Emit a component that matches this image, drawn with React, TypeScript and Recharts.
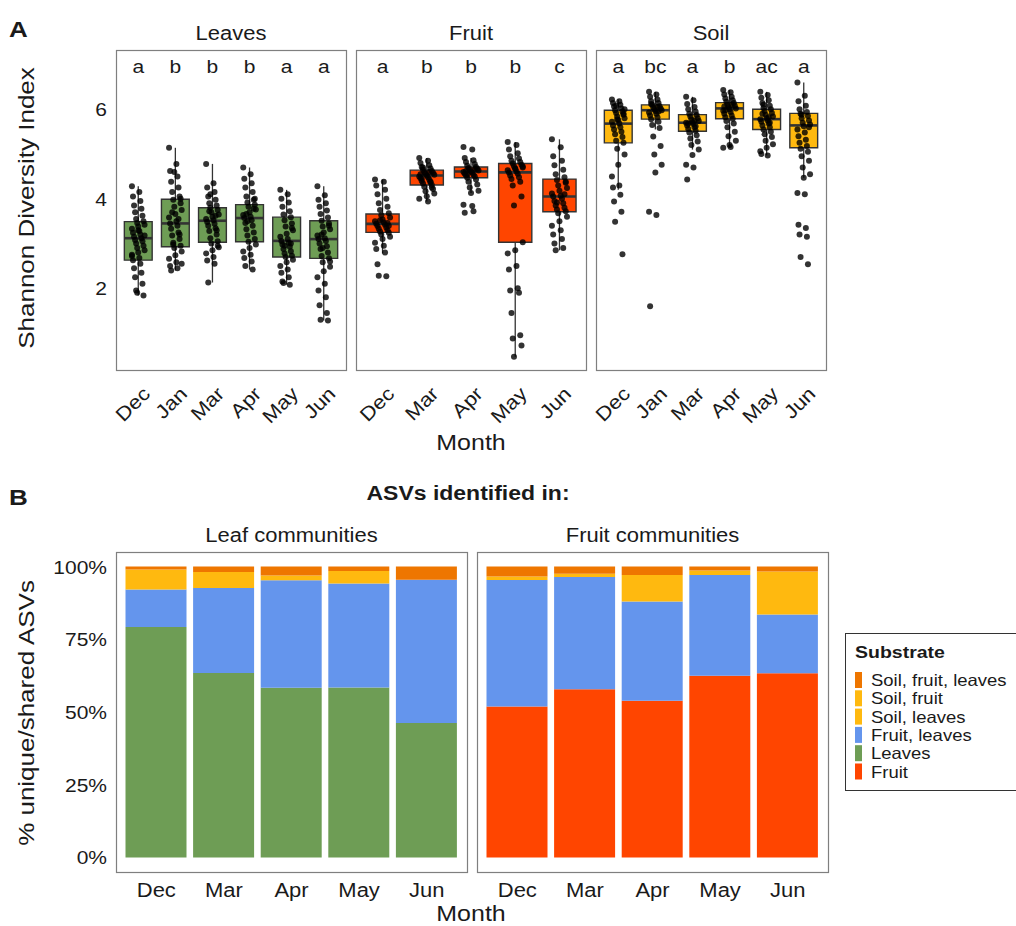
import React from 'react';
import {
  ComposedChart,
  BarChart,
  Bar,
  Scatter,
  XAxis,
  YAxis,
  ReferenceArea,
  ReferenceLine,
} from 'recharts';

const FONT = '"Liberation Sans", Arial, Helvetica, sans-serif';
const INK = '#1a1a1a';
// the reference type is a little wider than it is tall
const SQ = 0.88;

// ---- panel A: Shannon diversity ----
const leafMonths = ['Dec', 'Jan', 'Mar', 'Apr', 'May', 'Jun'];
const fruitMonths = ['Dec', 'Mar', 'Apr', 'May', 'Jun'];
const soilMonths = ['Dec', 'Jan', 'Mar', 'Apr', 'May', 'Jun'];

const leafLetters = ['a', 'b', 'b', 'b', 'a', 'a'];
const fruitLetters = ['a', 'b', 'b', 'b', 'c'];
const soilLetters = ['a', 'bc', 'a', 'b', 'ac', 'a'];

// [lower whisker, Q1, median, Q3, upper whisker]
const leafBoxes = [
  [1.84, 2.63, 3.12, 3.49, 4.28],
  [2.4, 2.93, 3.45, 3.99, 5.14],
  [2.13, 3.03, 3.51, 3.8, 4.78],
  [2.42, 3.04, 3.57, 3.87, 4.7],
  [2.08, 2.7, 3.06, 3.59, 4.2],
  [1.28, 2.67, 3.1, 3.51, 4.28],
];
const fruitBoxes = [
  [2.78, 3.25, 3.44, 3.66, 4.43],
  [3.94, 4.31, 4.52, 4.64, 4.91],
  [4.13, 4.47, 4.61, 4.71, 4.91],
  [0.47, 3.03, 4.59, 4.79, 5.27],
  [2.85, 3.71, 4.05, 4.44, 5.33],
];
const soilBoxes = [
  [4.2, 5.25, 5.68, 5.98, 6.22],
  [5.55, 5.78, 5.98, 6.1, 6.39],
  [5.1, 5.51, 5.7, 5.88, 6.28],
  [5.14, 5.79, 6.02, 6.15, 6.43],
  [4.97, 5.55, 5.78, 6.0, 6.39],
  [4.47, 5.14, 5.64, 5.91, 6.6],
];

const leafPoints = [
  [4.28, 4.15, 4.05, 3.95, 3.85, 3.78, 3.7, 3.62, 3.55, 3.5, 3.46, 3.42, 3.38, 3.33, 3.28, 3.24, 3.2, 3.15, 3.12, 3.08, 3.05, 3.0, 2.95, 2.9, 2.85, 2.8, 2.75, 2.68, 2.63, 2.55, 2.45, 2.35, 2.25, 2.1, 1.95, 1.84, 1.9, 3.18, 3.3, 2.72],
  [5.14, 4.78, 4.62, 4.5, 4.38, 4.25, 4.15, 4.05, 3.98, 3.9, 3.82, 3.75, 3.66, 3.58, 3.5, 3.45, 3.4, 3.33, 3.25, 3.18, 3.1, 3.02, 2.95, 2.9, 2.82, 2.74, 2.66, 2.58, 2.5, 2.45, 2.4, 3.55, 3.7, 3.2, 2.98, 4.0, 4.6, 2.55],
  [4.78, 4.35, 4.25, 4.15, 4.05, 3.98, 3.9, 3.85, 3.8, 3.75, 3.7, 3.65, 3.6, 3.55, 3.52, 3.48, 3.44, 3.4, 3.34, 3.28, 3.2, 3.12, 3.05, 3.0, 2.92, 2.85, 2.78, 2.7, 2.62, 2.55, 2.13, 3.62, 3.72, 3.3, 4.1, 2.95],
  [4.7, 4.55, 4.45, 4.35, 4.25, 4.15, 4.05, 3.98, 3.92, 3.87, 3.82, 3.76, 3.7, 3.64, 3.6, 3.57, 3.52, 3.46, 3.4, 3.32, 3.25, 3.18, 3.1, 3.04, 2.98, 2.9, 2.82, 2.75, 2.68, 2.6, 2.5, 2.42, 3.66, 3.78, 3.5, 4.0],
  [4.2, 4.1, 4.0, 3.92, 3.82, 3.72, 3.65, 3.59, 3.52, 3.45, 3.38, 3.3, 3.22, 3.15, 3.1, 3.06, 3.02, 2.98, 2.93, 2.88, 2.83, 2.78, 2.73, 2.7, 2.64, 2.58, 2.5, 2.42, 2.35, 2.25, 2.15, 2.08, 2.12, 3.0, 2.95, 3.35],
  [4.28, 4.08, 3.98, 3.9, 3.82, 3.74, 3.66, 3.58, 3.51, 3.45, 3.38, 3.32, 3.25, 3.18, 3.12, 3.1, 3.06, 3.0, 2.94, 2.88, 2.8, 2.72, 2.67, 2.58, 2.48, 2.38, 2.25, 2.1, 1.95, 1.8, 1.62, 1.45, 1.3, 1.28, 3.2, 3.4, 2.9, 2.6],
];
const fruitPoints = [
  [4.43, 4.38, 4.3, 4.2, 4.1, 4.0, 3.9, 3.82, 3.75, 3.68, 3.63, 3.58, 3.54, 3.5, 3.47, 3.44, 3.42, 3.39, 3.36, 3.33, 3.3, 3.27, 3.24, 3.2, 3.15, 3.1, 3.02, 2.95, 2.88, 2.8, 2.54, 2.27, 2.28, 3.46, 3.52, 3.4],
  [4.91, 4.85, 4.8, 4.75, 4.71, 4.68, 4.65, 4.62, 4.6, 4.58, 4.56, 4.54, 4.52, 4.5, 4.48, 4.46, 4.43, 4.4, 4.37, 4.34, 4.31, 4.27, 4.22, 4.17, 4.12, 4.06, 4.0, 3.94, 4.55, 4.6, 4.45, 4.38, 4.7, 4.25],
  [5.16, 5.1, 4.91, 4.86, 4.82, 4.78, 4.74, 4.71, 4.69, 4.67, 4.65, 4.63, 4.61, 4.6, 4.58, 4.56, 4.54, 4.52, 4.5, 4.47, 4.43, 4.38, 4.32, 4.25, 4.18, 4.13, 3.87, 3.84, 3.69, 3.72, 4.62, 4.66, 4.55],
  [5.27, 5.2, 5.1, 5.02, 4.95, 4.9, 4.85, 4.82, 4.79, 4.76, 4.73, 4.7, 4.67, 4.64, 4.61, 4.59, 4.56, 4.52, 4.48, 4.44, 4.38, 4.3, 4.05, 3.85, 3.03, 2.85, 2.78, 2.5, 2.42, 2.0, 1.95, 1.9, 1.45, 0.95, 0.88, 0.72, 0.47, 4.72, 4.68],
  [5.33, 5.15, 4.95, 4.85, 4.75, 4.65, 4.55, 4.48, 4.42, 4.36, 4.3, 4.24, 4.18, 4.12, 4.07, 4.05, 4.0, 3.95, 3.9, 3.85, 3.8, 3.76, 3.72, 3.68, 3.6, 3.5, 3.4, 3.3, 3.2, 3.1, 3.0, 2.9, 2.85, 4.1, 3.92, 4.38],
];
const soilPoints = [
  [6.22, 6.18, 6.14, 6.1, 6.06, 6.02, 5.98, 5.95, 5.92, 5.88, 5.84, 5.8, 5.76, 5.72, 5.68, 5.64, 5.6, 5.55, 5.5, 5.44, 5.38, 5.3, 5.25, 5.12, 4.99, 4.76, 4.5, 4.3, 4.25, 4.09, 3.94, 3.71, 3.49, 2.76, 6.08, 5.9, 5.78, 6.0],
  [6.39, 6.33, 6.28, 6.22, 6.18, 6.14, 6.1, 6.07, 6.04, 6.02, 6.0, 5.98, 5.96, 5.93, 5.9, 5.86, 5.82, 5.78, 5.72, 5.65, 5.58, 5.39, 5.18, 4.99, 4.76, 4.59, 3.71, 3.64, 1.6, 6.05, 6.12, 5.95],
  [6.28, 6.2, 6.12, 6.05, 6.0, 5.95, 5.9, 5.87, 5.84, 5.8, 5.77, 5.74, 5.71, 5.7, 5.67, 5.64, 5.6, 5.56, 5.52, 5.48, 5.42, 5.35, 5.28, 5.2, 5.1, 4.98, 4.76, 4.7, 4.43, 5.75, 5.68, 5.62],
  [6.43, 6.38, 6.33, 6.28, 6.24, 6.2, 6.17, 6.14, 6.11, 6.08, 6.05, 6.02, 6.0, 5.97, 5.94, 5.9, 5.86, 5.82, 5.79, 5.74, 5.68, 5.6, 5.5, 5.4, 5.3, 5.2, 5.14, 5.16, 6.06, 6.1, 5.98],
  [6.39, 6.32, 6.26, 6.2, 6.14, 6.08, 6.03, 6.0, 5.96, 5.92, 5.88, 5.84, 5.8, 5.78, 5.75, 5.72, 5.68, 5.64, 5.6, 5.55, 5.5, 5.44, 5.38, 5.3, 5.22, 5.14, 5.06, 4.97, 5.0, 5.82, 5.9, 5.7, 6.1],
  [6.6, 6.3, 6.18, 6.08, 6.0, 5.94, 5.9, 5.85, 5.8, 5.75, 5.7, 5.66, 5.62, 5.55, 5.48, 5.4, 5.32, 5.25, 5.18, 5.12, 5.05, 4.95, 4.85, 4.7, 4.55, 4.47, 4.13, 4.1, 3.42, 3.35, 3.2, 3.15, 2.7, 2.54, 5.88, 5.6],
];

const diversityTicks = [2, 4, 6];
const letterLevel = 6.97;

// ---- panel B: unique / shared ASVs (%) ----
const commMonths = ['Dec', 'Mar', 'Apr', 'May', 'Jun'];
const leafCommLeaves = [79.2, 63.4, 58.3, 58.4, 46.2];
const leafCommFruitLeaves = [12.9, 29.2, 37.0, 35.8, 49.3];
const leafCommSoilLeaves = [6.9, 5.5, 1.6, 4.3, 0];
const leafCommSoilFruitLeaves = [1.0, 1.9, 3.1, 1.5, 4.5];
const fruitCommFruit = [51.9, 57.8, 53.9, 62.5, 63.3];
const fruitCommFruitLeaves = [43.5, 38.6, 34.1, 34.6, 20.2];
const fruitCommSoilFruit = [1.2, 1.1, 9.1, 1.5, 14.8];
const fruitCommSoilFruitLeaves = [3.4, 2.5, 2.9, 1.4, 1.7];
const pctTicks = [0, 25, 50, 75, 100];

const substrates = ['Soil, fruit, leaves', 'Soil, fruit', 'Soil, leaves', 'Fruit, leaves', 'Leaves', 'Fruit'];
const substrateColors = ['#EE7600', '#FFB90F', '#FFB90F', '#6495ED', '#6E9D55', '#FF4500'];

const COLORS = {
  sfl: '#EE7600',
  sf: '#FFB90F',
  sl: '#FFB90F',
  fl: '#6495ED',
  leaves: '#6E9D55',
  fruit: '#FF4500',
};

// layout
const A_TOP = 50;
const A_H = 320;
const A_W = 230;
const A_LEFTS = [116, 356, 596];
const B_TOP = 552;
const B_H = 320;
const B_W = 351;
const B_LEFTS = [116, 477];
const PAD = 36; // room for the slanted month labels

const jitter = (j: number) => (((j * 7) % 13) / 12 - 0.5) * 0.34;

function Txt({ x, y, size, anchor = 'start', bold = false, rotate = 0, children }: any) {
  return (
    <text
      transform={`translate(${x},${y}) rotate(${rotate}) scale(1,${SQ})`}
      fontSize={size}
      fontFamily={FONT}
      fontWeight={bold ? 700 : 400}
      textAnchor={anchor}
      fill={INK}
    >
      {children}
    </text>
  );
}

function RotMonthTick({ x, y, payload, months }: any) {
  return (
    <Txt x={x + 13} y={y + 25} size={22} anchor="end" rotate={-45}>
      {months[payload.value]}
    </Txt>
  );
}

function ValueTick({ x, y, payload, suffix = '' }: any) {
  return (
    <Txt x={x - 9} y={y + 7} size={21} anchor="end">
      {payload.value}
      {suffix}
    </Txt>
  );
}

function MonthTick({ x, y, payload }: any) {
  return (
    <Txt x={x} y={y + 25} size={22} anchor="middle">
      {payload.value}
    </Txt>
  );
}

function BoxFacet({ months, boxes, points, letters, fill, left, showY }: any) {
  const n = months.length;
  const axisW = showY ? 50 : 0;
  const dots = points.flatMap((vals: number[], i: number) =>
    vals.map((v, j) => ({ x: i + jitter(j), y: v }))
  );
  const labels = letters.map((label: string, i: number) => ({ x: i, y: letterLevel, label }));
  const half = 0.375;

  return (
    <div style={{ position: 'absolute', left: left - axisW - PAD, top: 0 }}>
      <ComposedChart
        width={PAD + axisW + A_W}
        height={A_TOP + A_H + 70}
        margin={{ top: A_TOP, right: 0, bottom: 0, left: PAD }}
      >
        <XAxis
          type="number"
          dataKey="x"
          domain={[-0.6, n - 0.4]}
          ticks={months.map((_: string, i: number) => i)}
          interval={0}
          allowDataOverflow
          height={70}
          tickSize={0}
          tickMargin={0}
          axisLine={false}
          tick={<RotMonthTick months={months} />}
        />
        <YAxis
          type="number"
          dataKey="y"
          domain={[0.175, 7.325]}
          ticks={diversityTicks}
          allowDataOverflow
          width={axisW}
          hide={!showY}
          tickSize={0}
          tickMargin={0}
          axisLine={false}
          tick={<ValueTick />}
        />
        {boxes.map((b: number[], i: number) => (
          <ReferenceLine
            key={`wu${i}`}
            segment={[{ x: i, y: b[3] }, { x: i, y: b[4] }]}
            stroke="#333"
            strokeWidth={1.3}
          />
        ))}
        {boxes.map((b: number[], i: number) => (
          <ReferenceLine
            key={`wl${i}`}
            segment={[{ x: i, y: b[0] }, { x: i, y: b[1] }]}
            stroke="#333"
            strokeWidth={1.3}
          />
        ))}
        {boxes.map((b: number[], i: number) => (
          <ReferenceArea
            key={`b${i}`}
            x1={i - half}
            x2={i + half}
            y1={b[1]}
            y2={b[3]}
            fill={fill}
            fillOpacity={1}
            stroke="#333"
            strokeWidth={1.4}
          />
        ))}
        {boxes.map((b: number[], i: number) => (
          <ReferenceLine
            key={`m${i}`}
            segment={[{ x: i - half, y: b[2] }, { x: i + half, y: b[2] }]}
            stroke="#333"
            strokeWidth={2.6}
          />
        ))}
        <Scatter
          data={dots}
          isAnimationActive={false}
          shape={(p: any) => <circle cx={p.cx} cy={p.cy} r={3} fill="#000" fillOpacity={0.8} />}
        />
        <Scatter
          data={labels}
          isAnimationActive={false}
          shape={(p: any) => (
            <Txt x={p.cx} y={p.cy + 7} size={21} anchor="middle">
              {p.payload.label}
            </Txt>
          )}
        />
      </ComposedChart>
    </div>
  );
}

function StackFacet({ rows, series, left, showY }: any) {
  const axisW = showY ? 80 : 0;
  return (
    <div style={{ position: 'absolute', left: left - axisW, top: B_TOP }}>
      <BarChart
        width={axisW + B_W}
        height={B_H + 40}
        data={rows}
        margin={{ top: 0, right: 0, bottom: 0, left: 0 }}
        barSize={61}
      >
        <XAxis
          dataKey="month"
          height={40}
          interval={0}
          tickSize={0}
          tickMargin={0}
          axisLine={false}
          padding={{ left: 6.5, right: 6.5 }}
          tick={<MonthTick />}
        />
        <YAxis
          type="number"
          domain={[-5, 105]}
          ticks={pctTicks}
          allowDataOverflow
          width={axisW}
          hide={!showY}
          tickSize={0}
          tickMargin={0}
          axisLine={false}
          tick={<ValueTick suffix="%" />}
        />
        {series.map((s: any) => (
          <Bar key={s.key} dataKey={s.key} stackId="s" fill={s.color} isAnimationActive={false} />
        ))}
      </BarChart>
    </div>
  );
}

const leafRows = commMonths.map((month, i) => ({
  month,
  leaves: leafCommLeaves[i],
  fl: leafCommFruitLeaves[i],
  sl: leafCommSoilLeaves[i],
  sfl: leafCommSoilFruitLeaves[i],
}));
const fruitRows = commMonths.map((month, i) => ({
  month,
  fruit: fruitCommFruit[i],
  fl: fruitCommFruitLeaves[i],
  sf: fruitCommSoilFruit[i],
  sfl: fruitCommSoilFruitLeaves[i],
}));
const leafSeries = ['leaves', 'fl', 'sl', 'sfl'].map((key) => ({ key, color: (COLORS as any)[key] }));
const fruitSeries = ['fruit', 'fl', 'sf', 'sfl'].map((key) => ({ key, color: (COLORS as any)[key] }));

export default function App() {
  const border = '#7f7f7f';
  return (
    <div
      style={{
        position: 'absolute',
        left: 0,
        top: 0,
        width: 1016,
        height: 926,
        overflow: 'hidden',
        background: '#fff',
      }}
    >
      <BoxFacet months={leafMonths} boxes={leafBoxes} points={leafPoints} letters={leafLetters} fill="#6E9D55" left={A_LEFTS[0]} showY />
      <BoxFacet months={fruitMonths} boxes={fruitBoxes} points={fruitPoints} letters={fruitLetters} fill="#FF4500" left={A_LEFTS[1]} />
      <BoxFacet months={soilMonths} boxes={soilBoxes} points={soilPoints} letters={soilLetters} fill="#FFB90F" left={A_LEFTS[2]} />
      <StackFacet rows={leafRows} series={leafSeries} left={B_LEFTS[0]} showY />
      <StackFacet rows={fruitRows} series={fruitSeries} left={B_LEFTS[1]} />

      <svg width={1016} height={926} style={{ position: 'absolute', left: 0, top: 0, pointerEvents: 'none' }}>
        {A_LEFTS.map((l) => (
          <rect key={l} x={l + 0.5} y={A_TOP + 0.5} width={A_W} height={A_H} fill="none" stroke={border} strokeWidth={1.2} />
        ))}
        {B_LEFTS.map((l) => (
          <rect key={l} x={l + 0.5} y={B_TOP + 0.5} width={B_W} height={B_H} fill="none" stroke={border} strokeWidth={1.2} />
        ))}

        <Txt x={9} y={37} size={26} bold>A</Txt>
        <Txt x={A_LEFTS[0] + A_W / 2} y={40} size={22} anchor="middle">Leaves</Txt>
        <Txt x={A_LEFTS[1] + A_W / 2} y={40} size={22} anchor="middle">Fruit</Txt>
        <Txt x={A_LEFTS[2] + A_W / 2} y={40} size={22} anchor="middle">Soil</Txt>
        <Txt x={34} y={208} size={26} anchor="middle" rotate={-90}>Shannon Diversity Index</Txt>
        <Txt x={471} y={450} size={25} anchor="middle">Month</Txt>

        <Txt x={9} y={505} size={26} bold>B</Txt>
        <Txt x={468} y={500} size={23} anchor="middle" bold>ASVs identified in:</Txt>
        <Txt x={B_LEFTS[0] + B_W / 2} y={542} size={22} anchor="middle">Leaf communities</Txt>
        <Txt x={B_LEFTS[1] + B_W / 2} y={542} size={22} anchor="middle">Fruit communities</Txt>
        <Txt x={34} y={713} size={26} anchor="middle" rotate={-90}>% unique/shared ASVs</Txt>
        <Txt x={471} y={921} size={25} anchor="middle">Month</Txt>

        <rect x={845.5} y={633.5} width={200} height={157} fill="#fff" stroke="#333" strokeWidth={1} />
        <Txt x={855} y={658} size={19.5} bold>Substrate</Txt>
        {substrates.map((name, i) => (
          <g key={name}>
            <rect x={855} y={672 + i * 18.3} width={7} height={16} fill={substrateColors[i]} />
            <Txt x={871} y={686 + i * 18.3} size={18.5}>{name}</Txt>
          </g>
        ))}
      </svg>
    </div>
  );
}
